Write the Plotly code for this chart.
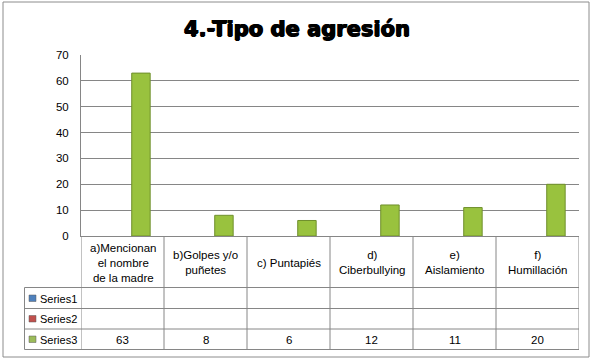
import plotly.graph_objects as go

# ---- data ----
categories = ["a)Mencionan el nombre de la madre", "b)Golpes y/o puñetes", "c) Puntapiés",
              "d) Ciberbullying", "e) Aislamiento", "f) Humillación"]
category_labels = ["a)Mencionan<br>el nombre<br>de la madre", "b)Golpes y/o<br>puñetes", "c) Puntapiés",
                   "d)<br>Ciberbullying", "e)<br>Aislamiento", "f)<br>Humillación"]
series_names = ["Series1", "Series2", "Series3"]
series1 = [None, None, None, None, None, None]
series2 = [None, None, None, None, None, None]
series3 = [63, 8, 6, 12, 11, 20]
series_values = [series1, series2, series3]
series_colors = ["#4F81BD", "#C0504D", "#9BBB59"]
y_ticks = [0, 10, 20, 30, 40, 50, 60, 70]
title_text = "4.-Tipo de agresión"

W, H = 596, 361
L, R, T, B = 81, 579, 55, 236  # plot area in px

FONT = "Liberation Sans, Arial, sans-serif"
GRID = "#868686"

def px(xp):
    return (xp - L) / (R - L)

def py(yp):
    return (B - yp) / (B - T)

fig = go.Figure()
for name, vals, col in zip(series_names, series_values, series_colors):
    fig.add_trace(go.Bar(
        x=list(range(len(categories))), y=vals, name=name,
        marker=dict(color=col if name != "Series3" else "#99c23e",
                    line=dict(color="#6f8f2c", width=1)),
        hoverinfo="skip", showlegend=False,
    ))

shapes = []
line = dict(color=GRID, width=1)
row_y = [287.5, 308.5, 329, 349.5]
for yy in row_y:
    shapes.append(dict(type="line", xref="paper", yref="paper", x0=px(24.5), x1=1,
                       y0=py(yy), y1=py(yy), line=line, layer="above"))
for i in range(len(categories) + 1):
    shapes.append(dict(type="line", xref="x", yref="paper", x0=i - 0.5, x1=i - 0.5,
                       y0=py(236), y1=py(349.5), line=line))
shapes.append(dict(type="line", xref="paper", yref="paper", x0=px(24.5), x1=px(24.5),
                   y0=py(287.5), y1=py(349.5), line=line))
shapes.append(dict(type="rect", xref="paper", yref="paper", x0=px(3), x1=px(589),
                   y0=py(2), y1=py(357), line=dict(color="#8c8c8c", width=1)))

annotations = []
for i, lab in enumerate(category_labels):
    annotations.append(dict(xref="x", yref="paper", x=i, y=py(262.5), text=lab, showarrow=False,
                            font=dict(family=FONT, size=11.5, color="#000"), align="center",
                            xanchor="center", yanchor="middle"))
row_centers = [298.5, 319, 339.5]
for name, vals, col, yc in zip(series_names, series_values, series_colors, row_centers):
    shapes.append(dict(type="rect", xref="paper", yref="paper", x0=px(29), x1=px(36),
                       y0=py(yc - 3.5), y1=py(yc + 3), fillcolor=col,
                       line=dict(color="#5a5a5a", width=0.5)))
    annotations.append(dict(xref="paper", yref="paper", x=px(38), y=py(yc), text=name,
                            showarrow=False, xanchor="left", yanchor="middle",
                            font=dict(family=FONT, size=11, color="#000")))
    for i, v in enumerate(vals):
        if v is not None:
            annotations.append(dict(xref="x", yref="paper", x=i, y=py(yc), text=str(v),
                                    showarrow=False, xanchor="center", yanchor="middle",
                                    font=dict(family=FONT, size=11.5, color="#000")))

fig.update_layout(
    width=W, height=H,
    margin=dict(l=L, r=W - R, t=T, b=H - B, pad=0),
    paper_bgcolor="white", plot_bgcolor="white",
    barmode="group", bargap=1/3, bargroupgap=0,
    title=dict(text=title_text, x=297 / W, xref="container", xanchor="center",
               y=1 - 29 / H, yref="container", yanchor="middle",
               font=dict(family="DejaVu Sans, Arial Black, sans-serif", size=21,
                         color="#000", weight=900,
                         shadow="0.7px 0 0 #000, -0.7px 0 0 #000, 0 0.5px 0 #000")),
    xaxis=dict(range=[-0.5, len(categories) - 0.5], showticklabels=False, ticks="",
               showgrid=False, showline=True, linecolor=GRID, linewidth=1, zeroline=False,
               fixedrange=True),
    yaxis=dict(range=[0, 70], tickvals=y_ticks, showgrid=True, gridcolor=GRID, gridwidth=1,
               showline=True, linecolor=GRID, linewidth=1, zeroline=False, ticks="",
               ticklabelstandoff=9,
               tickfont=dict(family=FONT, size=11.5, color="#000"), fixedrange=True),
    shapes=shapes, annotations=annotations,
    showlegend=False,
)
fig.write_html("out.html", config={"displayModeBar": False, "staticPlot": True},
               post_script="document.body.style.margin='0';document.body.style.overflow='hidden';")
